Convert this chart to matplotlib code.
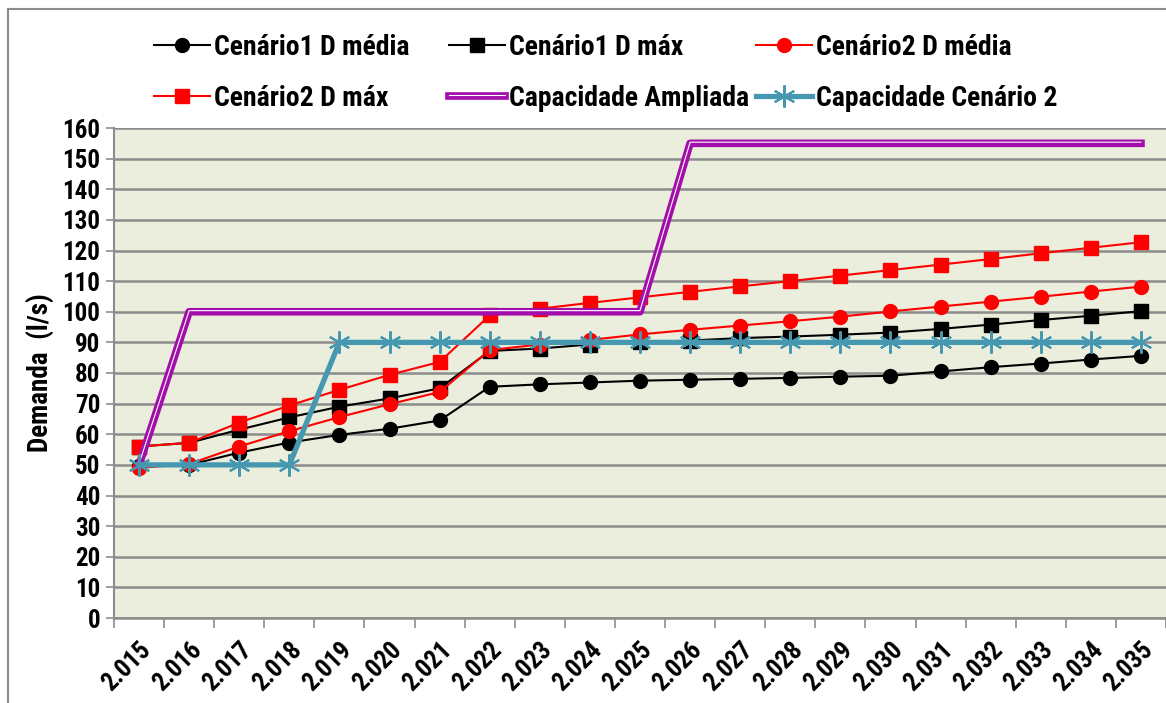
import matplotlib.pyplot as plt
import matplotlib.patheffects as pe
from matplotlib.lines import Line2D

plt.rcParams['font.family'] = ['Roboto Condensed', 'Open Sans Condensed', 'DejaVu Sans']
plt.rcParams['font.weight'] = 'bold'

# data
anos = ['2.015', '2.016', '2.017', '2.018', '2.019', '2.020', '2.021', '2.022', '2.023', '2.024', '2.025',
        '2.026', '2.027', '2.028', '2.029', '2.030', '2.031', '2.032', '2.033', '2.034', '2.035']
c1_media = [49.5, 50.0, 54.0, 57.3, 59.8, 61.8, 64.5, 75.5, 76.3, 76.9, 77.5,
            77.8, 78.1, 78.4, 78.8, 79.1, 80.5, 81.9, 83.1, 84.4, 85.6]
c1_max = [56.0, 57.2, 61.5, 65.5, 69.0, 71.7, 75.0, 87.2, 88.0, 89.3, 90.0,
          90.6, 91.4, 91.9, 92.5, 93.2, 94.4, 95.8, 97.3, 98.7, 100.2]
c2_media = [49.0, 50.3, 56.0, 61.0, 65.6, 69.8, 73.8, 87.5, 89.3, 90.8, 92.6,
            94.1, 95.5, 96.9, 98.4, 100.1, 101.7, 103.3, 104.9, 106.6, 108.2]
c2_max = [56.0, 57.2, 63.8, 69.4, 74.5, 79.4, 83.6, 98.8, 101.0, 102.9, 104.7,
          106.5, 108.3, 110.0, 111.8, 113.6, 115.4, 117.2, 119.1, 120.9, 122.7]
cap_ampliada = [50, 100, 100, 100, 100, 100, 100, 100, 100, 100, 100,
                155, 155, 155, 155, 155, 155, 155, 155, 155, 155]
cap_cen2 = [50, 50, 50, 50, 90, 90, 90, 90, 90, 90, 90,
            90, 90, 90, 90, 90, 90, 90, 90, 90, 90]

purple = '#A20EAA'
teal = '#4698B0'
grid = '#8C8C8C'

fig = plt.figure(figsize=(11.66, 7.03), dpi=100)
ax = fig.add_axes([114 / 1166, 85 / 703, 1052 / 1166, 490 / 703])
ax.set_facecolor('#EBEEDD')

x = range(len(anos))
l1, = ax.plot(x, c1_media, color='black', lw=1.5, marker='o', ms=10, label='Cenário1 D média')
l2, = ax.plot(x, c1_max, color='black', lw=1.5, marker='s', ms=10, label='Cenário1 D máx')
l3, = ax.plot(x, c2_media, color='red', lw=1.5, marker='o', ms=10, label='Cenário2 D média')
l4, = ax.plot(x, c2_max, color='red', lw=1.5, marker='s', ms=10, label='Cenário2 D máx')
# double line: thick purple with a thin white core a little above centre
l5, = ax.plot(x, cap_ampliada, color=purple, lw=5.5, label='Capacidade Ampliada',
              path_effects=[pe.Normal(),
                            pe.Stroke(linewidth=0.8, foreground='white', offset=(0, 0.8))])
l6, = ax.plot(x, cap_cen2, color=teal, lw=3.8, marker=(6, 2, 0), ms=16, mew=1.5,
              mec=teal, label='Capacidade Cenário 2')

ax.set_xlim(-0.5, 20.42)
ax.set_ylim(0, 160)
ax.set_yticks(range(0, 161, 10))
ax.yaxis.grid(True, color=grid, lw=1.8)
ax.set_axisbelow(True)
ax.tick_params(axis='y', labelsize=18, length=6, width=1.2, color=grid, pad=4)

ax.set_xticks(list(x))
ax.set_xticklabels(anos, rotation=45, ha='right', rotation_mode='anchor')
ax.tick_params(axis='x', which='major', length=0, labelsize=18, pad=14)
ax.set_xticks([i - 0.5 for i in range(len(anos) + 1)], minor=True)
ax.tick_params(axis='x', which='minor', length=7, width=1.2, color=grid)

for s in ['top', 'right']:
    ax.spines[s].set_visible(False)
ax.spines['left'].set_color(grid)
ax.spines['left'].set_linewidth(1.5)
ax.spines['bottom'].set_color(grid)
ax.spines['bottom'].set_linewidth(1.8)

ax.set_ylabel('Demanda  (l/s)', fontsize=19.5, fontweight='bold', labelpad=5)

# legend, three columns placed like the original
cols = [([l1, l4], 154), ([l2, l5], 449), ([l3, l6], 756)]
for hs, px in cols:
    fig.legend(hs, [h.get_label() for h in hs], loc='upper left',
               bbox_to_anchor=(px / 1166, 1 - 34 / 703), frameon=False,
               fontsize=20, handlelength=2.0, handletextpad=0.15,
               labelspacing=0.85, borderpad=0, borderaxespad=0)

# outer chart border
fig.add_artist(Line2D([8 / 1166, 8 / 1166], [0, 1 - 9 / 703], color=grid, lw=1.5))
fig.add_artist(Line2D([8 / 1166, 1], [1 - 9 / 703, 1 - 9 / 703], color=grid, lw=1.5))

fig.savefig('out.png', dpi=100, facecolor='white')
